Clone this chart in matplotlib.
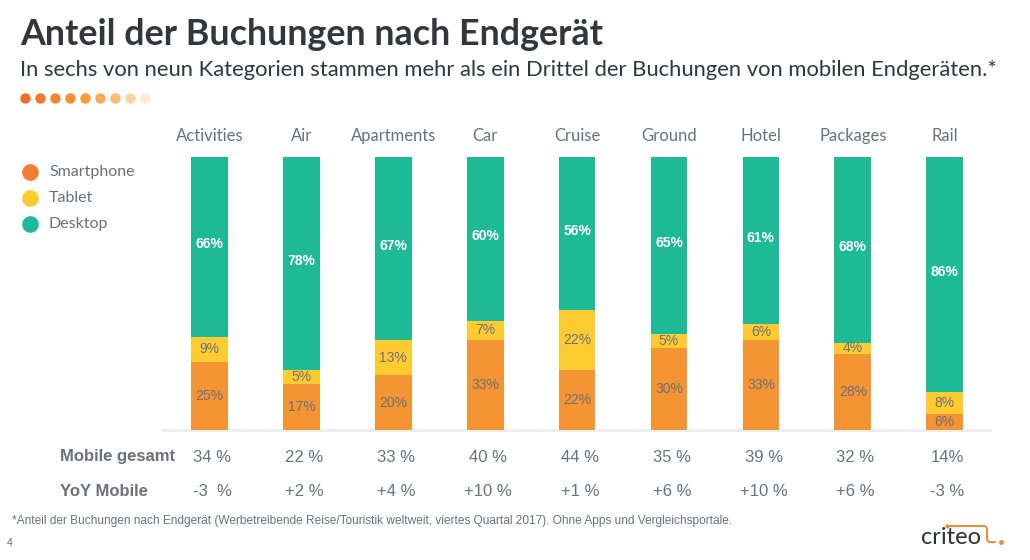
import matplotlib
matplotlib.use("Agg")
import matplotlib.pyplot as plt
import matplotlib.transforms as mtransforms
from matplotlib.lines import Line2D

categories = ["Activities", "Air", "Apartments", "Car", "Cruise",
              "Ground", "Hotel", "Packages", "Rail"]
smartphone = [25, 17, 20, 33, 22, 30, 33, 28, 6]
tablet = [9, 5, 13, 7, 22, 5, 6, 4, 8]
desktop = [66, 78, 67, 60, 56, 65, 61, 68, 86]
mobile_total = ["34 %", "22 %", "33 %", "40 %", "44 %", "35 %", "39 %", "32 %", "14%"]
yoy_mobile = ["-3  %", "+2 %", "+4 %", "+10 %", "+1 %", "+6 %", "+10 %", "+6 %", "-3 %"]

title = "Anteil der Buchungen nach Endgerät"
subtitle = ("In sechs von neun Kategorien stammen mehr als ein Drittel "
            "der Buchungen von mobilen Endgeräten.*")
footnote = ("*Anteil der Buchungen nach Endgerät (Werbetreibende Reise/Touristik "
            "weltweit, viertes Quartal 2017). Ohne Apps und Vergleichsportale.")

C_SMART = "#f59433"
C_TAB = "#fecb30"
C_DESK = "#1eb995"
C_GRAY = "#6d707a"
C_DARK = "#33363d"

W, H = 1030, 560
fig = plt.figure(figsize=(W / 100, H / 100), dpi=100)


def fx(px):
    return px / W


def fy(py):
    return 1 - py / H


# plot area in pixels: x 163..990, y 157..430
ax = fig.add_axes([fx(163), fy(430), (990 - 163) / W, (430 - 157) / H])
ax.set_xlim(-0.506, 8.493)
ax.set_ylim(0, 100)

x = list(range(len(categories)))
bw = 0.40
bottom_tab = [s for s in smartphone]
bottom_desk = [s + t for s, t in zip(smartphone, tablet)]
ax.bar(x, smartphone, bw, color=C_SMART, zorder=3)
ax.bar(x, tablet, bw, bottom=bottom_tab, color=C_TAB, zorder=3)
ax.bar(x, desktop, bw, bottom=bottom_desk, color=C_DESK, zorder=3)

lab_font = dict(family="Liberation Sans", fontsize=10)
for i in x:
    ax.text(i, smartphone[i] / 2, f"{smartphone[i]}%", ha="center", va="center",
            color=C_GRAY, zorder=4, **lab_font)
    ax.text(i, bottom_tab[i] + tablet[i] / 2, f"{tablet[i]}%", ha="center",
            va="center", color=C_GRAY, zorder=4, **lab_font)
    ax.text(i, bottom_desk[i] + desktop[i] / 2 + 1, f"{desktop[i]}%", ha="center",
            va="center", color="white", fontweight="bold", zorder=4, **lab_font)

for s in ["top", "left", "right"]:
    ax.spines[s].set_visible(False)
ax.spines["bottom"].set_color("#eceeef")
ax.spines["bottom"].set_linewidth(2.2)
ax.spines["bottom"].set_zorder(2)
ax.set_xticks([])
ax.set_yticks([])

blend = mtransforms.blended_transform_factory(ax.transData, fig.transFigure)
for i, c in enumerate(categories):
    ax.text(i, fy(136), c, transform=blend, ha="center", va="center",
            fontsize=12, color=C_GRAY, family="Lato")
    ax.text(i + 0.03, fy(457), mobile_total[i], transform=blend, ha="center",
            va="center", fontsize=12, color=C_GRAY, family="Liberation Sans")
    ax.text(i + 0.03, fy(492), yoy_mobile[i], transform=blend, ha="center",
            va="center", fontsize=12, color=C_GRAY, family="Liberation Sans")

fig.text(fx(60), fy(457), "Mobile gesamt", ha="left", va="center", fontsize=12,
         fontweight="bold", color=C_GRAY, family="Liberation Sans")
fig.text(fx(60), fy(492), "YoY Mobile", ha="left", va="center", fontsize=12,
         fontweight="bold", color=C_GRAY, family="Liberation Sans")

# title block
fig.text(fx(20), fy(45), title, ha="left", va="baseline", fontsize=25.8,
         fontweight="bold", color=C_DARK, family="Lato")
fig.text(fx(20), fy(76), subtitle, ha="left", va="baseline", fontsize=15.8,
         color=C_DARK, family="Lato")

dot_colors = ["#f36b2c", "#f5772f", "#f68432", "#f79035", "#f89b3a",
              "#f9a853", "#fbbb76", "#fcd3a4", "#fdebd8"]
for k, dc in enumerate(dot_colors):
    fig.add_artist(Line2D([fx(25 + 15 * k)], [fy(98)], marker="o", markersize=7.5,
                          color=dc, markeredgewidth=0, transform=fig.transFigure))

# legend
legend_items = [("Smartphone", "#f47e30"), ("Tablet", C_TAB), ("Desktop", C_DESK)]
for k, (name, col) in enumerate(legend_items):
    yy = fy(172 + 26 * k)
    fig.add_artist(Line2D([fx(30)], [yy], marker="o", markersize=12, color=col,
                          markeredgewidth=0, transform=fig.transFigure))
    fig.text(fx(49), yy, name, ha="left", va="center", fontsize=11.5,
             color=C_GRAY, family="Lato")

# footer
fig.text(fx(12), fy(521), footnote, ha="left", va="center", fontsize=8.6,
         color=C_GRAY, family="Liberation Sans")
fig.text(fx(7), fy(543), "4", ha="left", va="center", fontsize=7.5,
         color=C_GRAY, family="Liberation Sans")

# criteo logo
fig.text(fx(921), fy(538), "criteo", ha="left", va="center", fontsize=17,
         color="#2e3138", family="Lato")
orange = "#f28a2e"
fig.add_artist(Line2D([fx(947), fx(985), fx(987), fx(987), fx(989), fx(995)],
                      [fy(526), fy(526), fy(528), fy(540), fy(542), fy(542)],
                      color=orange, linewidth=1.4, transform=fig.transFigure,
                      solid_capstyle="round"))
fig.add_artist(Line2D([fx(947)], [fy(526)], marker="o", markersize=3, color=orange,
                      markeredgewidth=0, transform=fig.transFigure))
fig.add_artist(Line2D([fx(1001)], [fy(542)], marker="o", markersize=3.5,
                      color=orange, markeredgewidth=0, transform=fig.transFigure))

fig.savefig("out.png", dpi=100)
